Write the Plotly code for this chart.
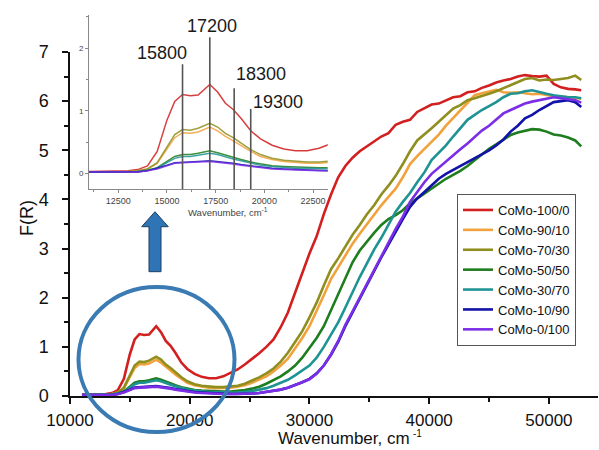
import plotly.graph_objects as go

# ---------------- data ----------------
wavenumber = [11000, 12000, 13000, 13500, 14000, 14500, 15000, 15400, 15800, 16200,
              16600, 17200, 17600, 18000, 18400, 18800, 19300, 19800, 20400, 21000,
              21600, 22200, 22800, 23400, 24000, 24600, 25200, 25800, 26400, 27000,
              27600, 28200, 28800, 29400, 30000, 30600, 31200, 31800, 32400, 33000,
              33600, 34200, 34800, 35400, 36000, 36600, 37200, 37800, 38400, 39000,
              39600, 40200, 40800, 41400, 42000, 42600, 43200, 43800, 44400, 45000,
              45600, 46200, 46800, 47400, 48000, 48600, 49200, 49800, 50400, 51000,
              51600, 52200, 52700]

como_100_0 = [0.03, 0.03, 0.04, 0.06, 0.12, 0.35, 0.85, 1.15, 1.26, 1.24,
              1.25, 1.42, 1.30, 1.12, 1.02, 0.88, 0.68, 0.55, 0.45, 0.39,
              0.36, 0.36, 0.40, 0.47, 0.54, 0.64, 0.75, 0.87, 1.00, 1.15,
              1.40, 1.70, 2.10, 2.50, 2.90, 3.25, 3.70, 4.10, 4.45, 4.68,
              4.85, 4.98, 5.08, 5.18, 5.28, 5.35, 5.52, 5.58, 5.62, 5.78,
              5.86, 5.93, 5.95, 6.02, 6.08, 6.10, 6.18, 6.20, 6.27, 6.32,
              6.38, 6.42, 6.45, 6.50, 6.53, 6.51, 6.50, 6.52, 6.35, 6.28,
              6.25, 6.24, 6.22]

como_90_10 = [0.02, 0.02, 0.03, 0.04, 0.07, 0.16, 0.38, 0.57, 0.65, 0.64,
              0.66, 0.74, 0.68, 0.59, 0.52, 0.44, 0.35, 0.27, 0.22, 0.19,
              0.17, 0.16, 0.16, 0.17, 0.19, 0.22, 0.27, 0.33, 0.40, 0.50,
              0.62, 0.76, 0.96, 1.18, 1.42, 1.72, 2.05, 2.38, 2.62, 2.88,
              3.10, 3.30, 3.50, 3.70, 3.88, 4.05, 4.22, 4.45, 4.72, 4.88,
              5.02, 5.18, 5.32, 5.50, 5.66, 5.82, 5.98, 6.12, 6.16, 6.20,
              6.23, 6.18, 6.17, 6.18, 6.16, 6.14, 6.15, 6.12, 6.10, 6.10,
              6.08, 6.07, 6.05]

como_70_30 = [0.02, 0.02, 0.03, 0.04, 0.07, 0.17, 0.42, 0.62, 0.70, 0.69,
              0.72, 0.80, 0.74, 0.64, 0.57, 0.49, 0.38, 0.30, 0.24, 0.21,
              0.19, 0.18, 0.18, 0.19, 0.21, 0.25, 0.31, 0.38, 0.46, 0.56,
              0.70, 0.88, 1.10, 1.32, 1.60, 1.90, 2.25, 2.58, 2.80, 3.05,
              3.28, 3.48, 3.70, 3.88, 4.10, 4.28, 4.48, 4.72, 4.98, 5.20,
              5.32, 5.45, 5.58, 5.72, 5.85, 5.92, 6.02, 6.06, 6.10, 6.15,
              6.20, 6.26, 6.33, 6.38, 6.45, 6.47, 6.42, 6.44, 6.43, 6.45,
              6.47, 6.52, 6.43]

como_50_50 = [0.02, 0.02, 0.02, 0.03, 0.05, 0.09, 0.19, 0.27, 0.30, 0.30,
              0.32, 0.36, 0.33, 0.29, 0.26, 0.22, 0.18, 0.15, 0.12, 0.11,
              0.10, 0.09, 0.09, 0.09, 0.10, 0.12, 0.15, 0.19, 0.25, 0.32,
              0.40, 0.50, 0.62, 0.78, 0.98, 1.18, 1.42, 1.75, 2.05, 2.38,
              2.72, 2.96, 3.15, 3.32, 3.48, 3.60, 3.68, 3.78, 3.92, 4.02,
              4.12, 4.22, 4.32, 4.42, 4.50, 4.58, 4.68, 4.80, 4.92, 5.03,
              5.12, 5.22, 5.31, 5.36, 5.40, 5.43, 5.42, 5.38, 5.32, 5.30,
              5.26, 5.20, 5.08]

como_30_70 = [0.02, 0.02, 0.02, 0.03, 0.05, 0.08, 0.17, 0.24, 0.27, 0.27,
              0.29, 0.32, 0.30, 0.26, 0.23, 0.20, 0.16, 0.13, 0.11, 0.09,
              0.08, 0.08, 0.07, 0.07, 0.07, 0.08, 0.10, 0.13, 0.16, 0.21,
              0.27, 0.33, 0.42, 0.52, 0.62, 0.78, 1.00, 1.25, 1.50, 1.80,
              2.12, 2.42, 2.70, 2.98, 3.22, 3.50, 3.75, 3.95, 4.13, 4.35,
              4.55, 4.80, 4.95, 5.10, 5.28, 5.45, 5.62, 5.72, 5.82, 5.90,
              5.98, 6.08, 6.15, 6.16, 6.20, 6.22, 6.18, 6.15, 6.12, 6.10,
              6.08, 6.08, 6.06]

como_10_90 = [0.02, 0.02, 0.02, 0.02, 0.04, 0.08, 0.13, 0.17, 0.18, 0.18,
              0.19, 0.20, 0.19, 0.17, 0.16, 0.14, 0.12, 0.10, 0.08, 0.07,
              0.06, 0.05, 0.05, 0.04, 0.04, 0.04, 0.05, 0.06, 0.08, 0.10,
              0.13, 0.17, 0.22, 0.28, 0.35, 0.46, 0.62, 0.84, 1.10, 1.42,
              1.70, 1.98, 2.28, 2.56, 2.82, 3.08, 3.35, 3.60, 3.85, 4.02,
              4.15, 4.28, 4.42, 4.52, 4.60, 4.68, 4.75, 4.84, 4.92, 5.00,
              5.10, 5.22, 5.38, 5.50, 5.65, 5.72, 5.82, 5.90, 5.98, 6.00,
              6.02, 5.98, 5.88]

como_0_100 = [0.02, 0.02, 0.02, 0.02, 0.04, 0.07, 0.12, 0.16, 0.17, 0.17,
              0.18, 0.19, 0.18, 0.16, 0.15, 0.13, 0.11, 0.09, 0.07, 0.06,
              0.05, 0.04, 0.04, 0.04, 0.04, 0.04, 0.05, 0.06, 0.08, 0.10,
              0.13, 0.17, 0.22, 0.28, 0.34, 0.45, 0.62, 0.85, 1.12, 1.45,
              1.72, 2.00, 2.30, 2.58, 2.85, 3.12, 3.40, 3.65, 3.95, 4.15,
              4.35, 4.52, 4.65, 4.78, 4.90, 5.02, 5.14, 5.28, 5.40, 5.50,
              5.62, 5.75, 5.82, 5.88, 5.95, 5.99, 6.02, 6.05, 6.08, 6.06,
              6.04, 6.02, 5.97]

series_names = ["CoMo-100/0", "CoMo-90/10", "CoMo-70/30", "CoMo-50/50",
                "CoMo-30/70", "CoMo-10/90", "CoMo-0/100"]
series_values = [como_100_0, como_90_10, como_70_30, como_50_50,
                 como_30_70, como_10_90, como_0_100]
series_colors = ["#d21f1f", "#f2a23c", "#8f8f1f", "#1e7d1e",
                 "#1f9393", "#1212a8", "#7b2ee6"]

main_xticks = [10000, 20000, 30000, 40000, 50000]
main_yticks = [0, 1, 2, 3, 4, 5, 6, 7]
inset_xticks = [12500, 15000, 17500, 20000, 22500]
inset_yticks = [0, 1, 2]
peak_positions = [15800, 17200, 18450, 19300]
peak_labels = ["15800", "17200", "18300", "19300"]

# ---------------- geometry helpers (pixels -> paper) ----------------
W, H = 599, 450
ML, MR, MT, MB = 70, 1, 10, 54
PW, PH = W - ML - MR, H - MT - MB


def px(x):
    return (x - ML) / PW


def py(y):
    return (H - MB - y) / PH


FONT = "Arial, Liberation Sans, sans-serif"

fig = go.Figure()

for name, vals, col in zip(series_names, series_values, series_colors):
    fig.add_trace(go.Scatter(x=wavenumber, y=vals, mode="lines", name=name,
                             line=dict(color=col, width=2.6),
                             xaxis="x", yaxis="y"))

for name, vals, col in zip(series_names, series_values, series_colors):
    fig.add_trace(go.Scatter(x=wavenumber, y=vals, mode="lines", name=name,
                             line=dict(color=col, width=1.5), opacity=0.85,
                             showlegend=False, xaxis="x2", yaxis="y2"))

main_top = py(52)

fig.update_layout(
    width=W, height=H,
    margin=dict(l=ML, r=MR, t=MT, b=MB),
    paper_bgcolor="white", plot_bgcolor="rgba(0,0,0,0)",
    font=dict(family=FONT, color="#111"),
    xaxis=dict(domain=[0, 1], range=[10000, 54100], anchor="y",
               showgrid=False, zeroline=False, showline=True,
               linecolor="#111", linewidth=1.5,
               ticks="outside", ticklen=6, tickwidth=1.5, tickcolor="#111",
               tickvals=main_xticks, ticktext=[str(v) for v in main_xticks],
               tickfont=dict(size=17, family=FONT, color="#111"),
               ticklabelstandoff=2,
               minor=dict(ticks="outside", ticklen=4, tickwidth=1.5,
                          tickcolor="#111", dtick=5000, tick0=10000)),
    yaxis=dict(domain=[0, main_top], range=[0, 7], anchor="x",
               showgrid=False, zeroline=False, showline=True,
               linecolor="#111", linewidth=1.5,
               ticks="outside", ticklen=6, tickwidth=1.5, tickcolor="#111",
               tickvals=main_yticks,
               tickfont=dict(size=18, family=FONT, color="#111"),
               ticklabelstandoff=10,
               minor=dict(ticks="outside", ticklen=4, tickwidth=1.5,
                          tickcolor="#111", dtick=0.5, tick0=0)),
    xaxis2=dict(domain=[px(89), px(327.7)], range=[11000, 23250], anchor="y2",
                showgrid=False, zeroline=False, showline=True,
                linecolor="#888", linewidth=1,
                ticks="outside", ticklen=3, tickcolor="#888",
                tickvals=inset_xticks, ticktext=[str(v) for v in inset_xticks],
                tickfont=dict(size=9, family=FONT, color="#444"),
                minor=dict(ticks="outside", ticklen=2, tickcolor="#888",
                           dtick=1250, tick0=12500)),
    yaxis2=dict(domain=[py(189), py(15)], range=[-0.25, 2.53], anchor="x2",
                showgrid=False, zeroline=False, showline=True,
                linecolor="#888", linewidth=1,
                ticks="outside", ticklen=3, tickcolor="#888",
                tickvals=inset_yticks,
                tickfont=dict(size=8, family=FONT, color="#444"),
                minor=dict(ticks="outside", ticklen=2, tickcolor="#888",
                           dtick=0.5, tick0=0)),
    legend=dict(x=px(457), y=py(194), xanchor="left", yanchor="top",
                bgcolor="white", bordercolor="#555", borderwidth=1,
                font=dict(size=13, family=FONT, color="#111"),
                tracegroupgap=0, itemwidth=30),
)

# vertical peak lines in the inset
line_tops = [1.744, 2.176, 1.36, 1.03]
for xpos, top in zip(peak_positions, line_tops):
    fig.add_shape(type="line", xref="x2", yref="y2", x0=xpos, x1=xpos,
                  y0=-0.25, y1=top, line=dict(color="#555", width=1.6))

label_pos = [(161.7, 53.3), (212, 26), (260.7, 74), (278, 101.7)]
for txt, (lx, ly) in zip(peak_labels, label_pos):
    fig.add_annotation(text=txt, xref="paper", yref="paper", x=px(lx), y=py(ly),
                       showarrow=False, xanchor="center", yanchor="middle",
                       font=dict(size=18, family=FONT, color="#1a1a1a"))

# inset axis title
fig.add_annotation(text="Wavenumber, cm<sup>-1</sup>", xref="paper", yref="paper",
                   x=px(228), y=py(212), showarrow=False,
                   xanchor="center", yanchor="middle",
                   font=dict(size=9.5, family=FONT, color="#444"))

# main axis titles
fig.add_annotation(text="F(R)", xref="paper", yref="paper", x=px(27.5), y=py(218.5),
                   showarrow=False, textangle=-90, xanchor="center", yanchor="middle",
                   font=dict(size=18, family=FONT, color="#111"))
fig.add_annotation(text="Wavenumber, cm", xref="paper", yref="paper",
                   x=px(344), y=py(450), showarrow=False,
                   xanchor="center", yanchor="bottom",
                   font=dict(size=17, family=FONT, color="#111"))
fig.add_annotation(text="-1", xref="paper", yref="paper",
                   x=px(411), y=py(434), showarrow=False,
                   xanchor="left", yanchor="middle",
                   font=dict(size=10, family=FONT, color="#111"))

# highlight circle
fig.add_shape(type="circle", xref="paper", yref="paper",
              x0=px(78.5), x1=px(234.5), y0=py(432), y1=py(287),
              line=dict(color="#3b7bb3", width=4), layer="above")

# block arrow pointing up to the inset
arrow_pts = [(155, 211.7), (168.3, 226.7), (161, 226.7), (161, 271.7),
             (149, 271.7), (149, 226.7), (141.7, 226.7)]
path = "M " + " L ".join(f"{px(a):.5f},{py(b):.5f}" for a, b in arrow_pts) + " Z"
fig.add_shape(type="path", xref="paper", yref="paper", path=path,
              fillcolor="#2f74b5", line=dict(color="#1d3f66", width=1), layer="above")

fig.write_html("out.html")
